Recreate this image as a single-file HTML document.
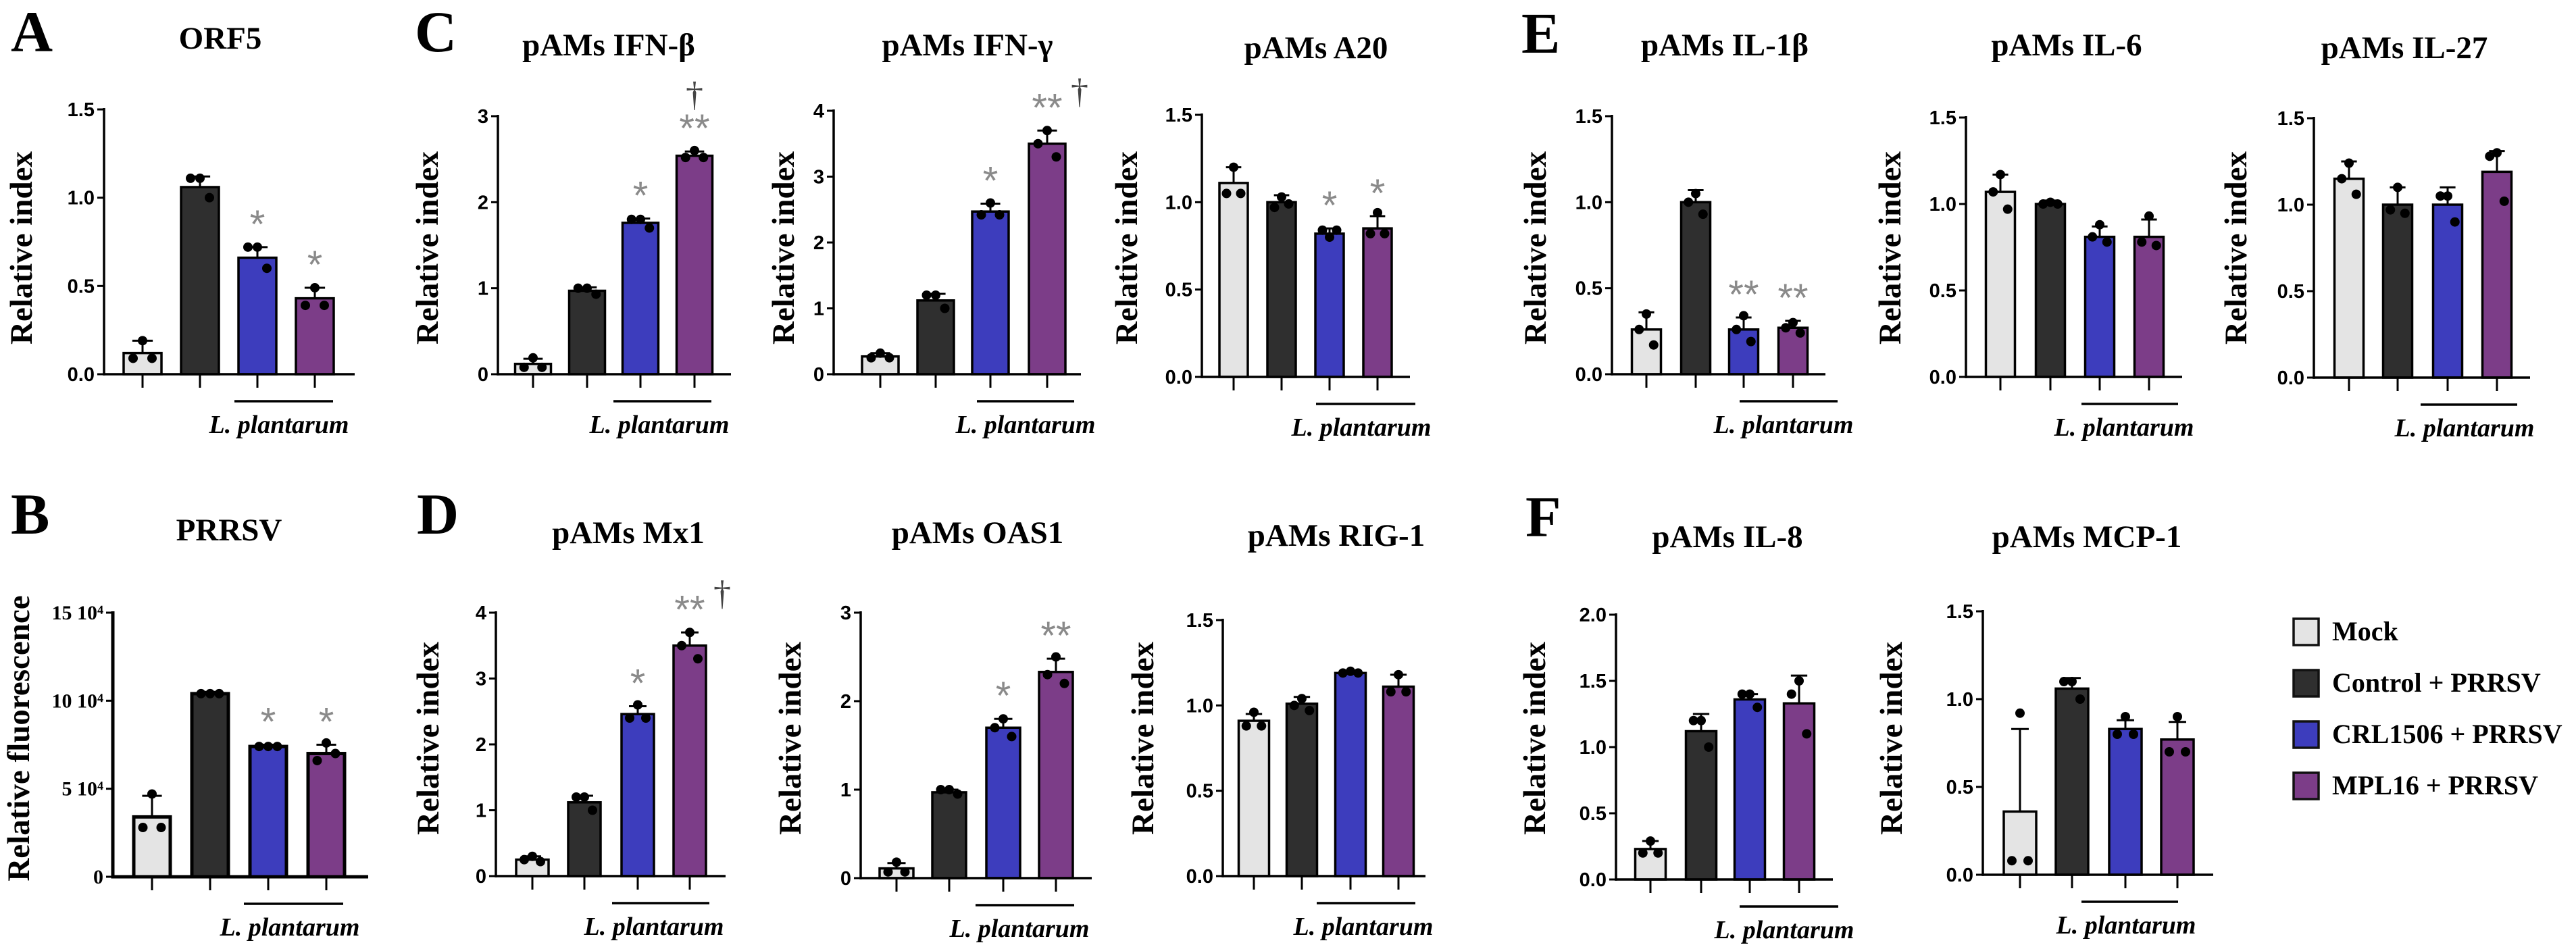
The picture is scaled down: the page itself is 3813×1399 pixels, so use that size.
<!DOCTYPE html>
<html><head><meta charset="utf-8"><style>
html,body{margin:0;padding:0;background:#fff;}
svg{display:block;}
.serif{font-family:"Liberation Serif","DejaVu Serif",serif;}
.narrow{font-family:"Liberation Sans Narrow","Liberation Sans","DejaVu Sans Condensed",sans-serif;}
.sans{font-family:"Liberation Sans","DejaVu Sans",sans-serif;}
</style></head><body>
<svg id="fig" width="3813" height="1399" viewBox="0 0 3813 1399" xmlns="http://www.w3.org/2000/svg"></svg>
<script>
// ---- data ----
const groupNames = ["Mock","Control + PRRSV","CRL1506 + PRRSV","MPL16 + PRRSV"];
const orf5Mean = [0.12,1.06,0.66,0.43];
const orf5Sd = [0.07,0.06,0.06,0.06];
const orf5Dots = [[0.19,0.09,0.09],[1.11,1.11,1.0],[0.72,0.72,0.6],[0.49,0.39,0.39]];
const prrsvMean = [3.4,10.4,7.4,7.0];
const prrsvSd = [1.2,0.1,0.1,0.5];
const prrsvDots = [[4.7,2.8,2.8],[10.4,10.4,10.4],[7.4,7.4,7.4],[7.6,6.6,7.0]];
const ifnbMean = [0.12,0.97,1.76,2.54];
const ifnbSd = [0.06,0.04,0.05,0.05];
const ifnbDots = [[0.19,0.08,0.08],[1.0,1.0,0.93],[1.8,1.8,1.7],[2.6,2.52,2.52]];
const ifngMean = [0.27,1.12,2.47,3.5];
const ifngSd = [0.05,0.1,0.12,0.2];
const ifngDots = [[0.32,0.25,0.25],[1.2,1.2,1.0],[2.6,2.42,2.42],[3.7,3.5,3.3]];
const a20Mean = [1.11,1.0,0.82,0.85];
const a20Sd = [0.09,0.04,0.03,0.07];
const a20Dots = [[1.2,1.05,1.05],[1.03,0.97,0.99],[0.8,0.84,0.84],[0.94,0.82,0.82]];
const il1bMean = [0.26,1.0,0.26,0.27];
const il1bSd = [0.1,0.07,0.07,0.04];
const il1bDots = [[0.35,0.26,0.17],[1.05,1.0,0.93],[0.34,0.26,0.19],[0.3,0.27,0.24]];
const il6Mean = [1.07,1.0,0.81,0.81];
const il6Sd = [0.1,0.02,0.06,0.1];
const il6Dots = [[1.17,1.07,0.97],[1.01,1.0,1.0],[0.88,0.81,0.78],[0.93,0.78,0.76]];
const il27Mean = [1.15,1.0,1.0,1.19];
const il27Sd = [0.1,0.1,0.1,0.12];
const il27Dots = [[1.24,1.15,1.06],[1.1,0.97,0.95],[1.05,1.05,0.9],[1.3,1.28,1.02]];
const mx1Mean = [0.25,1.12,2.46,3.5];
const mx1Sd = [0.05,0.1,0.12,0.2];
const mx1Dots = [[0.3,0.25,0.22],[1.2,1.2,1.0],[2.6,2.4,2.4],[3.7,3.5,3.3]];
const oas1Mean = [0.11,0.97,1.7,2.33];
const oas1Sd = [0.06,0.03,0.1,0.15];
const oas1Dots = [[0.18,0.07,0.07],[1.0,1.0,0.95],[1.8,1.7,1.6],[2.5,2.3,2.2]];
const rig1Mean = [0.91,1.01,1.19,1.11];
const rig1Sd = [0.04,0.04,0.01,0.07];
const rig1Dots = [[0.96,0.88,0.88],[1.04,1.0,0.97],[1.2,1.19,1.19],[1.18,1.08,1.08]];
const il8Mean = [0.23,1.12,1.36,1.33];
const il8Sd = [0.06,0.13,0.04,0.21];
const il8Dots = [[0.29,0.2,0.2],[1.2,1.2,1.0],[1.4,1.4,1.3],[1.5,1.4,1.1]];
const mcp1Mean = [0.36,1.06,0.83,0.77];
const mcp1Sd = [0.47,0.06,0.05,0.1];
const mcp1Dots = [[0.92,0.08,0.08],[1.1,1.1,1.0],[0.9,0.8,0.8],[0.9,0.7,0.7]];
const ticks15 = [0,0.5,1.0,1.5];
const ticks15Labels = ["0.0","0.5","1.0","1.5"];
const ticks3 = [0,1,2,3];
const ticks3Labels = ["0","1","2","3"];
const ticks4 = [0,1,2,3,4];
const ticks4Labels = ["0","1","2","3","4"];
const ticks2 = [0,0.5,1.0,1.5,2.0];
const ticks2Labels = ["0.0","0.5","1.0","1.5","2.0"];
const ticksP = [0,5,10,15];
const ticksPLabels = ["0","5 10⁴","10 10⁴","15 10⁴"];
const marksSig = ["","","*","*"];
const marksSig2 = ["","","**","**"];
const marksIfn = ["","","*","**"];
const marksNone = ["","","",""];

const colors = ["#e4e4e4","#2f2f2f","#3d3dbd","#7c3d88"];
const NS = "http://www.w3.org/2000/svg";
const svg = document.getElementById("fig");
function mk(tag, attrs, parent, txt){
  const e = document.createElementNS(NS, tag);
  for (const k in attrs) e.setAttribute(k, attrs[k]);
  if (txt !== undefined) e.textContent = txt;
  (parent || svg).appendChild(e);
  return e;
}

const panels = [
 {id:"orf5",title:"ORF5",mean:orf5Mean,sd:orf5Sd,dots:orf5Dots,marks:marksSig,ticks:ticks15,tl:ticks15Labels,max:1.5,ax:154,y0:554,top:162,cx:[211,296,381,466],bw:56,xend:525,line:[347,493],lab:413,tx:326,ty:72,yl:31,ylc:367},
 {id:"prrsv",title:"PRRSV",mean:prrsvMean,sd:prrsvSd,dots:prrsvDots,marks:marksSig,ticks:ticksP,tl:ticksPLabels,max:15,ax:167,y0:1298,top:907,cx:[225,311,397,483],bw:54,xend:545,line:[361,508],lab:429,tx:339,ty:800,yl:27,ylc:1093,ylabel:"Relative fluorescence",serifTicks:true,sw:5},
 {id:"ifnb",title:"pAMs IFN-β",mean:ifnbMean,sd:ifnbSd,dots:ifnbDots,marks:marksIfn,dagger:"above",ticks:ticks3,tl:ticks3Labels,max:3,ax:737,y0:554,top:172,cx:[789,869,948,1028],bw:53,xend:1082,line:[908,1053],lab:976,tx:901,ty:82,yl:632,ylc:367},
 {id:"ifng",title:"pAMs IFN-γ",mean:ifngMean,sd:ifngSd,dots:ifngDots,marks:marksIfn,dagger:"right",ticks:ticks4,tl:ticks4Labels,max:4,ax:1234,y0:554,top:164,cx:[1303,1385,1466,1550],bw:54,xend:1600,line:[1446,1590],lab:1518,tx:1432,ty:82,yl:1159,ylc:367},
 {id:"a20",title:"pAMs A20",mean:a20Mean,sd:a20Sd,dots:a20Dots,marks:marksSig,ticks:ticks15,tl:ticks15Labels,max:1.5,ax:1779,y0:558,top:170,cx:[1826,1897,1968,2039],bw:42,xend:2087,line:[1948,2095],lab:2015,tx:1948,ty:86,yl:1667,ylc:367},
 {id:"il1b",title:"pAMs IL-1β",mean:il1bMean,sd:il1bSd,dots:il1bDots,marks:marksSig2,ticks:ticks15,tl:ticks15Labels,max:1.5,ax:2386,y0:554,top:172,cx:[2437,2510,2581,2654],bw:43,xend:2702,line:[2575,2720],lab:2640,tx:2553,ty:82,yl:2272,ylc:367},
 {id:"il6",title:"pAMs IL-6",mean:il6Mean,sd:il6Sd,dots:il6Dots,marks:marksNone,ticks:ticks15,tl:ticks15Labels,max:1.5,ax:2910,y0:558,top:174,cx:[2961,3035,3108,3181],bw:43,xend:3230,line:[3081,3224],lab:3144,tx:3059,ty:82,yl:2797,ylc:367},
 {id:"il27",title:"pAMs IL-27",mean:il27Mean,sd:il27Sd,dots:il27Dots,marks:marksNone,ticks:ticks15,tl:ticks15Labels,max:1.5,ax:3425,y0:559,top:175,cx:[3477,3549,3623,3696],bw:43,xend:3745,line:[3583,3726],lab:3648,tx:3559,ty:86,yl:3309,ylc:367},
 {id:"mx1",title:"pAMs Mx1",mean:mx1Mean,sd:mx1Sd,dots:mx1Dots,marks:marksIfn,dagger:"right",ticks:ticks4,tl:ticks4Labels,max:4,ax:734,y0:1297,top:907,cx:[788,865,944,1021],bw:48,xend:1074,line:[906,1050],lab:968,tx:930,ty:804,yl:633,ylc:1093},
 {id:"oas1",title:"pAMs OAS1",mean:oas1Mean,sd:oas1Sd,dots:oas1Dots,marks:marksIfn,ticks:ticks3,tl:ticks3Labels,max:3,ax:1274,y0:1300,top:907,cx:[1327,1405,1485,1563],bw:50,xend:1616,line:[1444,1590],lab:1509,tx:1447,ty:804,yl:1169,ylc:1093},
 {id:"rig1",title:"pAMs RIG-1",mean:rig1Mean,sd:rig1Sd,dots:rig1Dots,marks:marksNone,ticks:ticks15,tl:ticks15Labels,max:1.5,ax:1810,y0:1297,top:918,cx:[1856,1927,1999,2070],bw:45,xend:2110,line:[1949,2095],lab:2018,tx:1978,ty:808,yl:1691,ylc:1093},
 {id:"il8",title:"pAMs IL-8",mean:il8Mean,sd:il8Sd,dots:il8Dots,marks:marksNone,ticks:ticks2,tl:ticks2Labels,max:2,ax:2392,y0:1302,top:910,cx:[2443,2518,2590,2663],bw:45,xend:2713,line:[2575,2721],lab:2641,tx:2557,ty:810,yl:2271,ylc:1093},
 {id:"mcp1",title:"pAMs MCP-1",mean:mcp1Mean,sd:mcp1Sd,dots:mcp1Dots,marks:marksNone,ticks:ticks15,tl:ticks15Labels,max:1.5,ax:2935,y0:1295,top:905,cx:[2990,3067,3146,3223],bw:48,xend:3276,line:[3081,3224],lab:3147,tx:3089,ty:810,yl:2799,ylc:1093}
];

function drawPanel(p){
  const g = mk("g", {});
  
  
  const sw = p.sw || 3.5;
  const ys = v => p.y0 - (v / p.max) * (p.y0 - p.top);
  const t = mk("text", {x:p.tx, y:p.ty, "text-anchor":"middle", class:"serif", style:"font-weight:bold;font-size:47px"}, g, p.title);
  
  
  const yl = mk("text", {x:0, y:0, transform:`translate(${p.yl+16},${p.ylc}) rotate(-90)`, "text-anchor":"middle", class:"serif", style:"font-weight:bold;font-size:47px"}, g, p.ylabel || "Relative index");
  
  
  p.mean.forEach((v, i) => {
    const c = p.cx[i];
    const r = mk("rect", {x:c - p.bw/2, y:ys(v), width:p.bw, height:p.y0 - ys(v), fill:colors[i], stroke:"#000", "stroke-width":sw}, g);
    
    
    const topV = v + p.sd[i];
    const e1 = mk("line", {x1:c, x2:c, y1:ys(v), y2:ys(topV), stroke:"#000", "stroke-width":3}, g);
    
    
    mk("line", {x1:c - p.bw*0.27, x2:c + p.bw*0.27, y1:ys(topV), y2:ys(topV), stroke:"#000", "stroke-width":3}, g);
    const offs = [0, -0.25, 0.25];
    p.dots[i].forEach((d, j) => {
      const dot = mk("circle", {cx:c + offs[j]*p.bw, cy:ys(d), r:7, fill:"#000"}, g);
      
      
    });
    mk("line", {x1:c, x2:c, y1:p.y0, y2:p.y0+20, stroke:"#000", "stroke-width":3}, g);
    const m = p.marks[i];
    if (m) {
      const cy = ys(topV) - 45;
      const s = mk("text", {x:c, y:cy + 31, "text-anchor":"middle", class:"sans", style:"font-size:58px", fill:"#8a8a8a"}, g, m);
      
      
      if (p.dagger && i === 3) {
        let dx = c, dy = cy - 38;
        if (p.dagger === "right") { dx = c + 48; dy = cy - 12; }
        const dg = mk("text", {x:dx, y:dy + 16, "text-anchor":"middle", class:"serif", style:"font-size:52px", fill:"#444"}, g, "†");
        
        
      }
    }
  });
  const ya = mk("line", {x1:p.ax, x2:p.ax, y1:p.top - 2, y2:p.y0 + sw/2, stroke:"#000", "stroke-width":sw}, g);
  
  
  const xa = mk("line", {x1:p.ax - sw/2, x2:p.xend, y1:p.y0, y2:p.y0, stroke:"#000", "stroke-width":sw}, g);
  
  
  p.ticks.forEach((tv, k) => {
    const y = ys(tv);
    mk("line", {x1:p.ax - 10, x2:p.ax, y1:y, y2:y, stroke:"#000", "stroke-width":3}, g);
    const lbl = mk("text", {x:p.ax - 14, y:y + 10, "text-anchor":"end",
      class: p.serifTicks ? "serif" : "narrow", style:"font-weight:bold;font-size:" + (p.serifTicks ? 30 : 29) + "px"}, g, p.tl[k]);
    
    
  });
  const ln = mk("line", {x1:p.line[0], x2:p.line[1], y1:p.y0 + 40, y2:p.y0 + 40, stroke:"#000", "stroke-width":3.5}, g);
  
  
  const gl = mk("text", {x:p.lab, y:p.y0 + 87, "text-anchor":"middle", class:"serif", style:"font-weight:bold;font-style:italic;font-size:38px"}, g, "L. plantarum");
  
  
}
panels.forEach(drawPanel);

const letters = [["A",16,76],["B",16,790],["C",614,76],["D",617,790],["E",2252,78],["F",2258,794]];
letters.forEach(l => {
  const t = mk("text", {x:l[1], y:l[2], class:"serif", style:"font-weight:bold;font-size:86px"}, svg, l[0]);
  
  
});

const legendRows = [916, 992, 1068, 1144];
const lg = mk("g", {});


groupNames.forEach((n, i) => {
  const r = mk("rect", {x:3395, y:legendRows[i], width:37, height:39, fill:colors[i], stroke:"#111", "stroke-width":3.5}, lg);
  
  
  const t = mk("text", {x:3452, y:legendRows[i] + 32, class:"serif", style:"font-weight:bold;font-size:40px"}, lg, n);
  
  
});
</script>
</body></html>
